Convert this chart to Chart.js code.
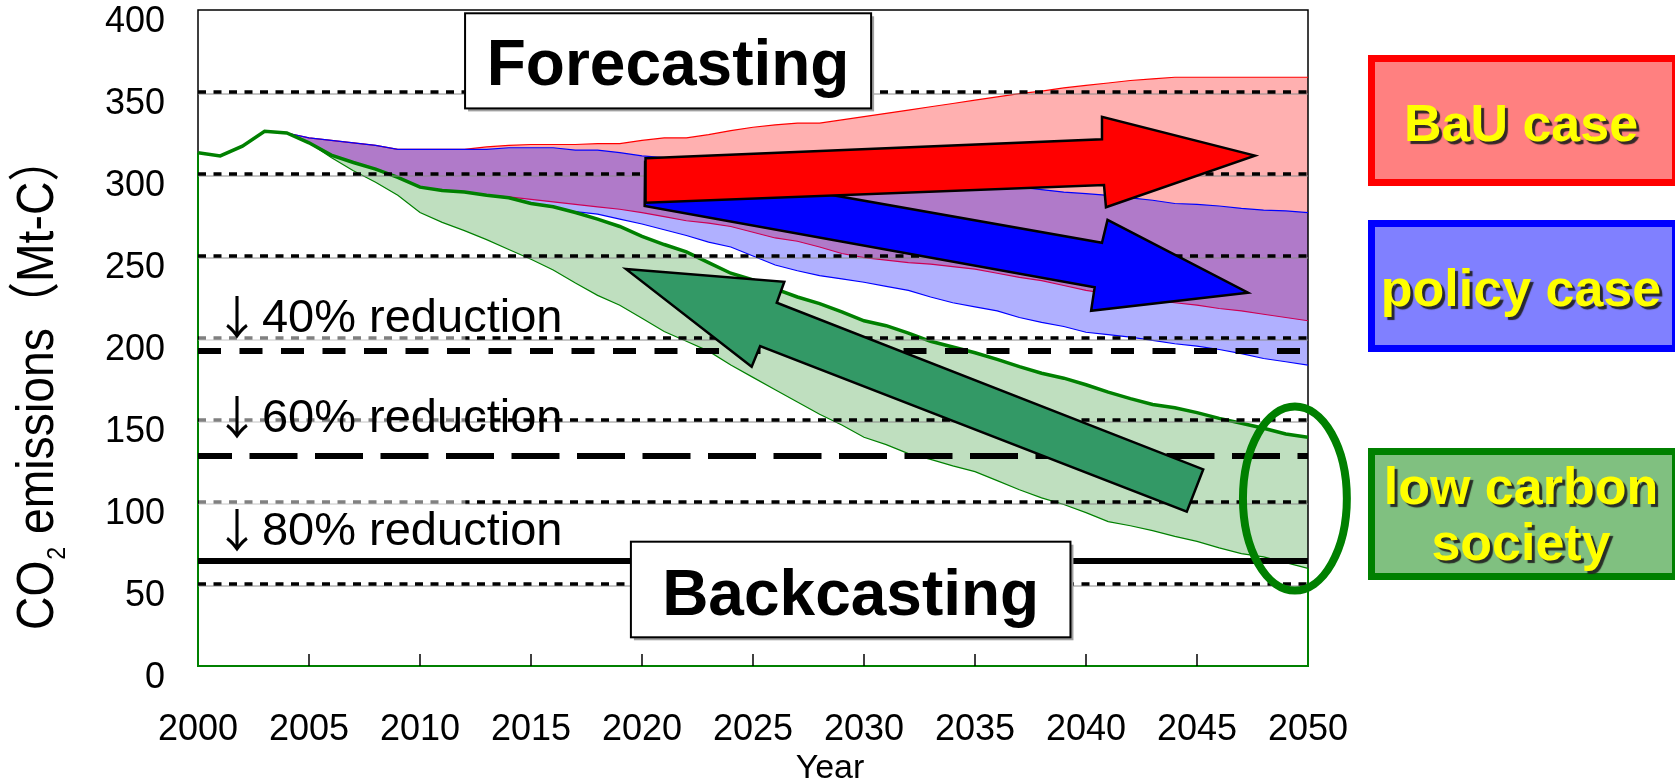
<!DOCTYPE html>
<html>
<head>
<meta charset="utf-8">
<script src="https://cdn.jsdelivr.net/npm/chart.js@4.4.1/dist/chart.umd.min.js"></script>
<style>
  html, body { margin: 0; padding: 0; background: #fff; }
  #wrap { width: 1675px; height: 783px; }
</style>
</head>
<body>
<div id="wrap"><canvas id="co2Chart" width="1675" height="783"></canvas></div>
<script>
// --- DATI (Mt-C) ---
const years = [2000, 2001, 2002, 2003, 2004, 2005, 2006, 2007, 2008, 2009,
               2010, 2011, 2012, 2013, 2014, 2015, 2016, 2017, 2018, 2019,
               2020, 2021, 2022, 2023, 2024, 2025, 2026, 2027, 2028, 2029,
               2030, 2031, 2032, 2033, 2034, 2035, 2036, 2037, 2038, 2039,
               2040, 2041, 2042, 2043, 2044, 2045, 2046, 2047, 2048, 2049, 2050];

// BaU case band
const bauUpper = [313, 311, 317, 326, 325, 322, 320.5, 319, 317.5, 315,
                  315, 315, 315, 316.5, 317.5, 318, 318, 318, 318.5, 318.5,
                  320.5, 322, 322, 324, 326.5, 328.5, 330, 331, 331, 333,
                  335, 337, 339, 341, 343, 345, 347, 349, 350.5, 352.5,
                  354, 355.5, 357, 358, 359, 359, 359, 359, 359, 359, 359];
const bauLower = [313, 311, 317, 326, 325, 319, 311.5, 307, 303, 298,
                  292, 290, 289, 287, 286, 284.5, 283, 281.5, 280, 278.5,
                  276.5, 274, 271.5, 270, 268, 264.5, 261, 259, 255.5, 251.5,
                  249, 247.5, 246, 245, 243.5, 242, 239.5, 237, 235, 232,
                  229, 227, 225, 223, 221.5, 220, 218, 216.5, 214.5, 212.5, 210.5];

// policy case band
const policyUpper = [313, 311, 317, 326, 325, 322, 320.5, 319, 317.5, 315,
                     315, 315, 315, 315, 316, 316, 316, 314.5, 314.5, 313,
                     311, 310, 309, 307.5, 306.5, 305, 304, 303, 302, 300.5,
                     299.5, 298.5, 297.5, 296, 295, 294, 293, 292, 290.5, 289,
                     288, 287, 285.5, 284, 282, 281.5, 280.5, 279, 278, 277.5, 276.5];
const policyLower = [313, 311, 317, 326, 325, 319, 311.5, 307, 303, 298,
                     292, 290, 289, 287, 285.5, 282, 280, 277, 275.5, 272.5,
                     269.5, 266, 262.5, 258.5, 255.5, 250, 244.5, 241, 238, 236,
                     234, 231.5, 229, 225, 221.5, 219, 216.5, 212.5, 209.5, 207,
                     203.5, 202, 200.5, 198.5, 196.5, 195, 193, 190.5, 187.5, 185.5, 183.5];

// low carbon society band
const lcsUpper = [313, 311, 317, 326, 325, 319, 311.5, 307, 303, 298,
                  292, 290, 289, 287, 285.5, 282, 280, 276.5, 272.5, 268,
                  262, 257, 252.5, 246, 239.5, 235.5, 230, 225, 221, 216,
                  210.5, 207.5, 203, 198, 194.5, 191, 187, 182.5, 178.5, 175.5,
                  171.5, 167, 163, 159.5, 157.5, 154.5, 151, 148, 145, 141.5, 139.5];
const lcsLower = [313, 311, 317, 326, 325, 319, 310, 302, 295, 287,
                  276.5, 270.5, 265.5, 260, 254, 248, 241.5, 233.5, 226, 220,
                  212, 204, 198, 192, 183.5, 176, 168.5, 161, 153.5, 147,
                  139.5, 135, 129.5, 126, 122, 118.5, 113, 107.5, 102.5, 98.5,
                  93.5, 88, 85.5, 82.5, 79, 76, 72, 68.5, 66.5, 63, 59.5];

// livelli di riduzione (rispetto a 320)
const targetLevels = [192, 128, 64];
const targetLabels = ['40% reduction', '60% reduction', '80% reduction'];
const gridValues = [50, 100, 150, 200, 250, 300, 350];
const legendLabels = [['BaU case'], ['policy case'], ['low carbon', 'society']];

// --- GEOMETRIA ANNOTAZIONI (in coordinate dati: anno, Mt-C) ---
const labelBaselines = [203.8, 142.9, 73.8];
const redArrow = [[2020.16, 309.6], [2040.72, 321.2], [2040.72, 334.9], [2047.61, 311.2], [2040.9, 279.7], [2040.81, 293.3], [2020.16, 282.5]];
const blueArrow = [[2020.14, 307.3], [2040.72, 258.1], [2040.97, 272.0], [2047.30, 227.6], [2040.23, 216.6], [2040.39, 230.9], [2020.12, 280.5]];
const greenArrow = [[2019.27, 242.1], [2026.41, 234.3], [2026.07, 221.5], [2045.28, 119.9], [2044.54, 94.1], [2025.32, 195.1], [2024.94, 182.5]];

const FONT = "'Liberation Sans', Arial, sans-serif";

function pts(arr) {
    return years.map((yr, i) => ({ x: yr, y: arr[i] }));
}

function line(ctx, x0, y0, x1, y1) {
    ctx.beginPath(); ctx.moveTo(x0, y0); ctx.lineTo(x1, y1); ctx.stroke();
}

function polygon(ctx, list, fill, P) {
    ctx.beginPath();
    list.forEach((p, i) => {
        const q = P(p[0], p[1]);
        if (i === 0) ctx.moveTo(q.x, q.y); else ctx.lineTo(q.x, q.y);
    });
    ctx.closePath();
    ctx.fillStyle = fill; ctx.fill();
    ctx.strokeStyle = '#000'; ctx.lineWidth = 2.5; ctx.lineJoin = 'miter'; ctx.stroke();
}

function textBox(ctx, P, x0, x1, top, bottom, base, text) {
    const a = P(x0, top), b = P(x1, bottom);
    const w = b.x - a.x, h = b.y - a.y;
    ctx.fillStyle = '#a0a0a0'; ctx.fillRect(a.x + 3, a.y + 3, w, h);
    ctx.fillStyle = '#fff'; ctx.fillRect(a.x, a.y, w, h);
    ctx.strokeStyle = '#000'; ctx.lineWidth = 2; ctx.setLineDash([]);
    ctx.strokeRect(a.x, a.y, w, h);
    ctx.fillStyle = '#000'; ctx.font = 'bold 64px ' + FONT;
    ctx.textAlign = 'center'; ctx.textBaseline = 'alphabetic';
    ctx.fillText(text, a.x + w / 2, P(x0, base).y);
}

// --- PLUGIN: griglia, linee obiettivo, frecce, riquadri ---
const overlayPlugin = {
    id: 'overlay',
    beforeDatasetsDraw(chart) {
        const { ctx, chartArea: a } = chart;
        ctx.save();
        ctx.strokeStyle = '#000'; ctx.lineWidth = 1.5;
        ctx.strokeRect(a.left, a.top, a.right - a.left, a.bottom - a.top);
        ctx.restore();
    },
    afterDatasetsDraw(chart) {
        const { ctx, chartArea: a, scales: { x, y } } = chart;
        const P = (yr, v) => ({ x: x.getPixelForValue(yr), y: y.getPixelForValue(v) });
        ctx.save();

        // griglia tratteggiata
        gridValues.forEach(v => {
            const yy = Math.round(y.getPixelForValue(v));
            ctx.setLineDash([]); ctx.strokeStyle = '#8a8a8a'; ctx.lineWidth = 1;
            line(ctx, a.left, yy + 2, a.right, yy + 2);
            ctx.setLineDash([8, 7.5]); ctx.strokeStyle = '#000'; ctx.lineWidth = 3.5;
            line(ctx, a.left, yy, a.right, yy);
        });

        // velo bianco dietro le etichette di riduzione
        ctx.setLineDash([]);
        labelBaselines.forEach(b => {
            const yb = y.getPixelForValue(b);
            ctx.fillStyle = 'rgba(255,255,255,0.5)';
            ctx.fillRect(a.left + 1, yb - 45, x.getPixelForValue(2012) - a.left, 55);
        });

        // linee obiettivo
        const y40 = y.getPixelForValue(targetLevels[0]);
        const y60 = y.getPixelForValue(targetLevels[1]);
        const y80 = y.getPixelForValue(targetLevels[2]);
        ctx.strokeStyle = '#000'; ctx.lineWidth = 6; ctx.lineCap = 'butt';
        ctx.setLineDash([23, 18.5]);
        line(ctx, a.left, y40, a.right, y40);
        ctx.setLineDash([48, 17.5]); ctx.lineDashOffset = 14;
        line(ctx, a.left, y60, a.right, y60);
        ctx.lineDashOffset = 0; ctx.setLineDash([]);
        line(ctx, a.left, y80, a.right, y80);

        // tacche asse x (verso l'interno)
        ctx.lineWidth = 1.5;
        x.ticks.forEach(t => {
            if (t.value === x.min || t.value === x.max) return;
            const xx = x.getPixelForValue(t.value);
            line(ctx, xx, a.bottom, xx, a.bottom - 12);
        });

        // frecce
        polygon(ctx, greenArrow, '#339966', P);
        polygon(ctx, blueArrow, '#0000ff', P);
        polygon(ctx, redArrow, '#ff0000', P);

        // riquadri
        textBox(ctx, P, 2012.03, 2030.32, 398, 340, 354.3, 'Forecasting');
        textBox(ctx, P, 2019.5, 2039.3, 75.8, 17.5, 31.1, 'Backcasting');

        // etichette di riduzione
        targetLabels.forEach((txt, i) => {
            const yb = y.getPixelForValue(labelBaselines[i]);
            ctx.fillStyle = '#000'; ctx.textBaseline = 'alphabetic';
            ctx.textAlign = 'center';
            ctx.font = "46px 'Noto Sans CJK JP', " + FONT;
            ctx.fillText('↓', x.getPixelForValue(2001.76), yb + 2);
            ctx.textAlign = 'left';
            ctx.font = '47px ' + FONT;
            ctx.fillText(txt, x.getPixelForValue(2002.88), yb);
        });

        // ellisse verde
        const c = P(2049.41, 102.1);
        const rx = x.getPixelForValue(2049.41 + 2.34) - c.x;
        const ry = y.getPixelForValue(102.1 - 56.1) - c.y;
        ctx.beginPath(); ctx.ellipse(c.x, c.y, rx, ry, 0, 0, Math.PI * 2);
        ctx.strokeStyle = '#008000'; ctx.lineWidth = 8; ctx.stroke();

        ctx.restore();
    },
    afterDraw(chart) {
        const { ctx } = chart;
        ctx.save();
        ctx.fillStyle = '#000';

        // titolo asse y
        ctx.translate(53, 630);
        ctx.rotate(-Math.PI / 2);
        ctx.scale(0.89, 1);
        ctx.textAlign = 'left'; ctx.textBaseline = 'alphabetic';
        ctx.font = "52px 'Liberation Sans', 'Noto Sans CJK JP', sans-serif";
        ctx.fillText('CO', 0, 0);
        let w = ctx.measureText('CO').width + 1;
        ctx.font = '26px ' + FONT;
        ctx.fillText('2', w, 12);
        w += ctx.measureText('2').width;
        ctx.font = "52px 'Liberation Sans', 'Noto Sans CJK JP', sans-serif";
        ctx.fillText(' emissions（Mt-C）', w, 0);
        ctx.restore();

        // titolo asse x
        ctx.save();
        ctx.fillStyle = '#000'; ctx.font = '34px ' + FONT;
        ctx.textAlign = 'center'; ctx.textBaseline = 'alphabetic';
        ctx.fillText('Year', 830, 778);

        // legenda a destra
        const boxes = [
            { fill: '#ff8080', stroke: '#ff0000', top: 58.5, bottom: 182.5, base: [141] },
            { fill: '#8080ff', stroke: '#0000ff', top: 223.5, bottom: 348.5, base: [306] },
            { fill: '#80c080', stroke: '#008000', top: 451.5, bottom: 576.5, base: [504, 560] }
        ];
        boxes.forEach((b, i) => {
            ctx.fillStyle = b.fill;
            ctx.fillRect(1371.5, b.top, 304, b.bottom - b.top);
            ctx.strokeStyle = b.stroke; ctx.lineWidth = 7;
            ctx.strokeRect(1371.5, b.top, 304, b.bottom - b.top);
            ctx.font = 'bold 52px ' + FONT;
            ctx.textAlign = 'center';
            legendLabels[i].forEach((txt, k) => {
                ctx.save();
                ctx.shadowColor = 'rgba(30,30,30,0.9)';
                ctx.shadowOffsetX = 3; ctx.shadowOffsetY = 3; ctx.shadowBlur = 1;
                ctx.fillStyle = '#ffff00';
                ctx.fillText(txt, 1521, b.base[k]);
                ctx.restore();
            });
        });
        ctx.restore();
    }
};

// --- GRAFICO ---
new Chart(document.getElementById('co2Chart'), {
    type: 'line',
    data: {
        datasets: [
            { data: pts(lcsUpper), borderColor: '#008000', borderWidth: 3.5, fill: 1, backgroundColor: 'rgba(0,128,0,0.25)' },
            { data: pts(lcsLower), borderColor: '#008000', borderWidth: 1.2, fill: false },
            { data: pts(policyUpper), borderColor: '#0000ff', borderWidth: 1.2, fill: 3, backgroundColor: 'rgba(0,0,255,0.31)' },
            { data: pts(policyLower), borderColor: '#0000ff', borderWidth: 1.2, fill: false },
            { data: pts(bauUpper), borderColor: '#ff0000', borderWidth: 1.2, fill: 5, backgroundColor: 'rgba(255,0,0,0.31)' },
            { data: pts(bauLower), borderColor: '#cc0055', borderWidth: 1.2, fill: false },
            // bordo dell'area verde (verticali a inizio/fine e base a zero)
            {
                data: [
                    { x: years[0], y: lcsLower[0] }, { x: years[0], y: 0 },
                    { x: years[years.length - 1], y: 0 }, { x: years[years.length - 1], y: lcsLower[lcsLower.length - 1] }
                ],
                borderColor: '#008000', borderWidth: 2, fill: false, clip: 3
            }
        ]
    },
    options: {
        responsive: false,
        animation: false,
        devicePixelRatio: 1,
        layout: { padding: { left: 0, top: 10, right: 367, bottom: 0 } },
        elements: { point: { radius: 0 }, line: { tension: 0 } },
        plugins: {
            legend: { display: false },
            tooltip: { enabled: false },
            filler: { drawTime: 'beforeDatasetsDraw' }
        },
        scales: {
            x: {
                type: 'linear', min: 2000, max: 2050,
                grid: { display: false, drawTicks: false },
                border: { display: false },
                ticks: {
                    stepSize: 5, autoSkip: false, maxRotation: 0, padding: 42,
                    color: '#000', font: { family: FONT, size: 36 },
                    callback: v => String(v)
                },
                afterFit(s) { s.height = 117; s.paddingLeft = 0; s.paddingRight = 0; }
            },
            y: {
                min: 0, max: 400,
                grid: { display: false, drawTicks: false },
                border: { display: false },
                ticks: {
                    stepSize: 50, padding: 33, labelOffset: 12,
                    color: '#000', font: { family: FONT, size: 36, lineHeight: 0.5 }
                },
                afterFit(s) { s.width = 198; s.paddingTop = 0; s.paddingBottom = 0; }
            }
        }
    },
    plugins: [overlayPlugin]
});
</script>
</body>
</html>
